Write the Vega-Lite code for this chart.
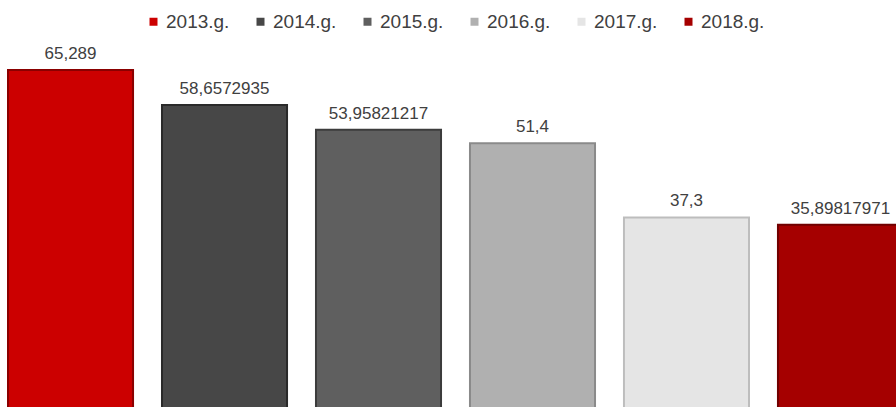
{
  "$schema": "https://vega.github.io/schema/vega-lite/v6.json",
  "width": 896,
  "height": 407,
  "autosize": {"type": "none"},
  "padding": 0,
  "background": "white",
  "data": {
    "values": [
      {"year": "2013.g.", "value": 65.289, "label": "65,289"},
      {"year": "2014.g.", "value": 58.6572935, "label": "58,6572935"},
      {"year": "2015.g.", "value": 53.95821217, "label": "53,95821217"},
      {"year": "2016.g.", "value": 51.4, "label": "51,4"},
      {"year": "2017.g.", "value": 37.3, "label": "37,3"},
      {"year": "2018.g.", "value": 35.89817971, "label": "35,89817971"}
    ]
  },
  "encoding": {
    "x": {
      "field": "year",
      "type": "nominal",
      "sort": null,
      "axis": null,
      "scale": {"range": [8, 903], "paddingInner": 0.188, "paddingOuter": 0}
    },
    "y": {
      "field": "value",
      "type": "quantitative",
      "axis": null,
      "scale": {"domain": [0, 78.56], "range": [414, 0], "nice": false, "zero": true}
    }
  },
  "layer": [
    {
      "mark": {"type": "bar", "strokeWidth": 2},
      "encoding": {
        "color": {
          "field": "year",
          "type": "nominal",
          "sort": null,
          "scale": {"range": ["#cc0000", "#474747", "#5f5f5f", "#b0b0b0", "#e5e5e5", "#a50000"]},
          "legend": {
            "title": null,
            "orient": "none",
            "direction": "horizontal",
            "legendX": 144,
            "legendY": 12,
            "padding": 0,
            "symbolType": "square",
            "symbolSize": 64,
            "symbolStrokeWidth": 0,
            "labelFont": "Liberation Sans",
            "labelFontSize": 19,
            "labelColor": "#404040",
            "labelOffset": 3,
            "columnPadding": 21
          }
        },
        "stroke": {
          "field": "year",
          "type": "nominal",
          "sort": null,
          "scale": {"range": ["#8a0000", "#2a2a2a", "#3c3c3c", "#8a8a8a", "#bdbdbd", "#700000"]},
          "legend": null
        }
      }
    },
    {
      "mark": {
        "type": "text",
        "baseline": "alphabetic",
        "dy": -11,
        "font": "Liberation Sans",
        "fontSize": 17,
        "color": "#404040"
      },
      "encoding": {
        "text": {"field": "label", "type": "nominal"}
      }
    }
  ],
  "config": {
    "view": {"stroke": null}
  }
}
